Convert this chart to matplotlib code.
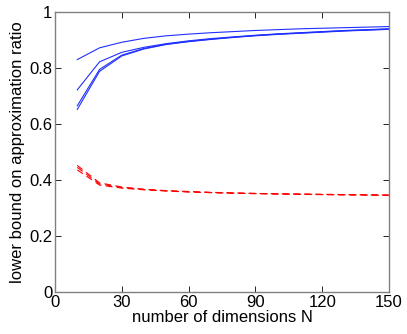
import matplotlib
matplotlib.use("Agg")
import matplotlib.pyplot as plt

N = [10, 20, 30, 40, 50, 60, 70, 80, 90, 100, 110, 120, 130, 140, 150]

blue_1 = [0.830, 0.872, 0.892, 0.906, 0.915, 0.921, 0.926, 0.930, 0.934, 0.937, 0.940, 0.942, 0.944, 0.946, 0.948]
blue_2 = [0.722, 0.822, 0.856, 0.874, 0.887, 0.897, 0.905, 0.911, 0.917, 0.922, 0.926, 0.930, 0.934, 0.937, 0.940]
blue_3 = [0.665, 0.795, 0.846, 0.870, 0.885, 0.895, 0.903, 0.910, 0.916, 0.921, 0.925, 0.929, 0.933, 0.936, 0.939]
blue_4 = [0.652, 0.788, 0.843, 0.868, 0.884, 0.894, 0.902, 0.909, 0.915, 0.920, 0.924, 0.928, 0.932, 0.935, 0.938]

red_1 = [0.452, 0.390, 0.375, 0.367, 0.362, 0.359, 0.356, 0.354, 0.352, 0.351, 0.350, 0.349, 0.348, 0.347, 0.346]
red_2 = [0.445, 0.386, 0.373, 0.366, 0.361, 0.358, 0.355, 0.353, 0.352, 0.350, 0.349, 0.348, 0.347, 0.347, 0.346]
red_3 = [0.436, 0.382, 0.371, 0.365, 0.361, 0.357, 0.355, 0.353, 0.351, 0.350, 0.349, 0.348, 0.347, 0.346, 0.345]

xticks = [0, 30, 60, 90, 120, 150]
yticks = [0, 0.2, 0.4, 0.6, 0.8, 1]
ytick_labels = ["0", "0.2", "0.4", "0.6", "0.8", "1"]

plt.rcParams["font.family"] = ["Liberation Sans", "DejaVu Sans"]

fig = plt.figure(figsize=(4.07, 3.34), dpi=100)
ax = fig.add_axes([55 / 407, 42 / 334, 334 / 407, 280 / 334])

for ys in (blue_1, blue_2, blue_3, blue_4):
    ax.plot(N, ys, color="#2030ff", lw=0.8)
for ys in (red_1, red_2, red_3):
    ax.plot(N, ys, color="#ff0000", lw=0.8, ls=(0, (6, 4)))

ax.set_xlim(0, 150)
ax.set_ylim(0, 1)
ax.set_xticks(xticks)
ax.set_yticks(yticks)
ax.set_yticklabels(ytick_labels)
ax.tick_params(direction="in", top=True, right=True, length=4, width=0.6,
               colors="black", labelsize=12, pad=2)
for sp in ax.spines.values():
    sp.set_color("#808080")
    sp.set_linewidth(1.0)
ax.set_xlabel("number of dimensions N", fontsize=12, labelpad=0)
ax.set_ylabel("lower bound on approximation ratio", fontsize=12, labelpad=3)

fig.savefig("out.png", dpi=100)
